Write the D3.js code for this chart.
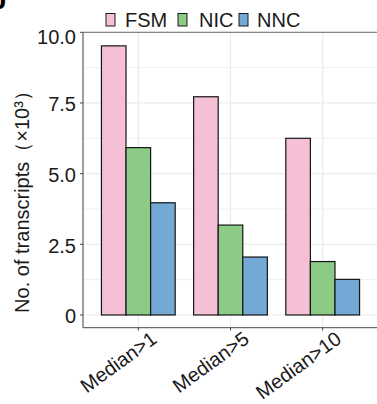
<!DOCTYPE html>
<html>
<head>
<meta charset="utf-8">
<script src="https://cdn.jsdelivr.net/npm/d3@7/dist/d3.min.js"></script>
<style>
  html, body { margin: 0; padding: 0; background: #fff; }
  svg { display: block; font-family: "Liberation Sans", Arial, sans-serif; }
</style>
</head>
<body>
<svg id="chart" width="377" height="404"></svg>
<script>
// Transcript counts (thousands) by expression filter
const categories = ["Median>1", "Median>5", "Median>10"];
const seriesNames = ["FSM", "NIC", "NNC"];
const fsmValues = [9.52, 7.72, 6.25];
const nicValues = [5.92, 3.18, 1.89];
const nncValues = [3.97, 2.05, 1.26];
const yTickValues = [0, 2.5, 5, 7.5, 10];
const yTickLabels = ["0", "2.5", "5.0", "7.5", "10.0"];
const yMinorValues = [1.25, 3.75, 6.25, 8.75];
const seriesColors = ["#F5C0D5", "#8BCB86", "#74A9D5"];

const seriesValues = [fsmValues, nicValues, nncValues];
const rows = categories.map((c, i) => ({
  category: c,
  values: seriesNames.map((s, j) => ({ series: s, value: seriesValues[j][i] }))
}));

const svg = d3.select("#chart");
const panel = { left: 83, top: 32.3, right: 378, bottom: 327.7 };

// discrete axis: 0.6 units of expansion on each side
const x = d3.scalePoint()
  .domain(categories)
  .range([panel.left, panel.right])
  .padding(0.6);
const step = x.step();
const xCenter = c => x(c);

const groupWidth = step * 0.8;
const xInner = d3.scaleBand().domain(seriesNames).range([0, groupWidth]).padding(0);

const y = d3.scaleLinear().domain([-0.45, 10.0]).range([panel.bottom, panel.top]);
const color = d3.scaleOrdinal().domain(seriesNames).range(seriesColors);

// grid
const grid = svg.append("g");
grid.selectAll("line.minor").data(yMinorValues).join("line")
  .attr("x1", panel.left).attr("x2", panel.right)
  .attr("y1", d => y(d)).attr("y2", d => y(d))
  .attr("stroke", "#F0F0F0").attr("stroke-width", 1);
grid.selectAll("line.major").data(yTickValues).join("line")
  .attr("x1", panel.left).attr("x2", panel.right)
  .attr("y1", d => y(d)).attr("y2", d => y(d))
  .attr("stroke", "#EBEBEB").attr("stroke-width", 1.2);
grid.selectAll("line.vx").data(categories).join("line")
  .attr("x1", d => xCenter(d)).attr("x2", d => xCenter(d))
  .attr("y1", panel.top).attr("y2", panel.bottom)
  .attr("stroke", "#EBEBEB").attr("stroke-width", 1.2);

// bars
const groups = svg.append("g").selectAll("g").data(rows).join("g")
  .attr("transform", d => `translate(${xCenter(d.category) - groupWidth / 2},0)`);
groups.selectAll("rect").data(d => d.values).join("rect")
  .attr("x", d => xInner(d.series))
  .attr("width", xInner.bandwidth())
  .attr("y", d => y(d.value))
  .attr("height", d => y(0) - y(d.value))
  .attr("fill", d => color(d.series))
  .attr("stroke", "#151515")
  .attr("stroke-width", 1.2);

// panel border
svg.append("line").attr("x1", panel.left).attr("x2", panel.right)
  .attr("y1", panel.top).attr("y2", panel.top)
  .attr("stroke", "#858585").attr("stroke-width", 1.3);
svg.append("line").attr("x1", panel.left).attr("x2", panel.right)
  .attr("y1", panel.bottom).attr("y2", panel.bottom)
  .attr("stroke", "#6b6b6b").attr("stroke-width", 1.3);
svg.append("line").attr("x1", panel.left).attr("x2", panel.left)
  .attr("y1", panel.top).attr("y2", panel.bottom)
  .attr("stroke", "#6b6b6b").attr("stroke-width", 1.3);

// y axis
const yAxis = svg.append("g");
yAxis.selectAll("line").data(yTickValues).join("line")
  .attr("x1", panel.left - 3).attr("x2", panel.left)
  .attr("y1", d => y(d)).attr("y2", d => y(d))
  .attr("stroke", "#444").attr("stroke-width", 1);
yAxis.selectAll("text").data(yTickValues).join("text")
  .attr("x", panel.left - 7)
  .attr("y", d => y(d) + (d === 10 ? 4 : 1))
  .attr("dy", "0.36em")
  .attr("text-anchor", "end")
  .attr("font-size", 20)
  .attr("fill", "#1a1a1a")
  .text((d, i) => yTickLabels[i]);

svg.append("text")
  .attr("transform", `translate(29,197) rotate(-90)`)
  .attr("text-anchor", "middle")
  .attr("font-size", 20)
  .attr("fill", "#1a1a1a")
  .text("No. of transcripts（×10³）");

// x axis
const xAxis = svg.append("g");
xAxis.selectAll("line").data(categories).join("line")
  .attr("x1", d => xCenter(d)).attr("x2", d => xCenter(d))
  .attr("y1", panel.bottom).attr("y2", panel.bottom + 3)
  .attr("stroke", "#444").attr("stroke-width", 1);
xAxis.selectAll("text").data(categories).join("text")
  .attr("transform", d => `translate(${xCenter(d) + 20},${panel.bottom + 14}) rotate(-36)`)
  .attr("text-anchor", "end")
  .attr("font-size", 20)
  .attr("fill", "#1a1a1a")
  .text(d => d);

// legend
const legendItems = [
  { name: "FSM", keyX: 106, textX: 125 },
  { name: "NIC", keyX: 178, textX: 199 },
  { name: "NNC", keyX: 239, textX: 257 }
];
const legend = svg.append("g");
legend.selectAll("rect").data(legendItems).join("rect")
  .attr("x", d => d.keyX).attr("y", 13.5)
  .attr("width", 9).attr("height", 12.5)
  .attr("fill", d => color(d.name))
  .attr("stroke", "#1a1a1a").attr("stroke-width", 1);
legend.selectAll("text").data(legendItems).join("text")
  .attr("x", d => d.textX).attr("y", 27)
  .attr("font-size", 20)
  .attr("fill", "#1a1a1a")
  .text(d => d.name);

// panel tag
svg.append("text")
  .attr("x", -11).attr("y", 9)
  .attr("font-size", 28).attr("font-weight", "bold")
  .attr("fill", "#000")
  .text("b");
</script>
</body>
</html>
